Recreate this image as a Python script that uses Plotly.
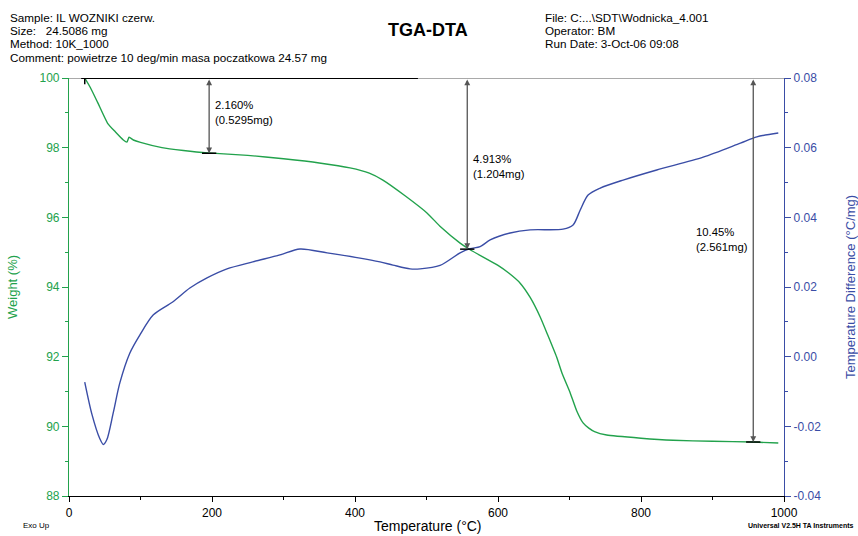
import plotly.graph_objects as go

# ---- data ----
temp_w = [22, 30, 40, 54, 65, 76, 81, 84, 90, 100, 130, 160, 194, 250, 300, 350, 393,
          420, 439, 470, 501, 520, 547, 561, 600, 615, 631, 645, 659, 670, 682, 690, 701,
          710, 719, 727, 735, 752, 800, 845, 900, 957, 992]
weight = [100.0, 99.72, 99.3, 98.7, 98.45, 98.22, 98.16, 98.3, 98.22, 98.15, 98.0, 97.92,
          97.85, 97.78, 97.68, 97.56, 97.42, 97.27, 97.07, 96.62, 96.12, 95.72, 95.26,
          95.07, 94.62, 94.4, 94.11, 93.7, 93.14, 92.6, 91.99, 91.5, 90.96,
          90.45, 90.1, 89.95, 89.85, 89.75, 89.66, 89.6, 89.57, 89.55, 89.52]

temp_d = [22, 32, 43, 48, 53, 62, 71, 85, 99, 118, 145, 169, 193, 221, 257, 295, 323,
          361, 407, 435, 453, 477, 491, 519, 547, 561, 575, 589, 617, 645, 691, 705,
          715, 726, 743, 775, 822, 887, 939, 962, 992]
dta = [-0.0073, -0.0165, -0.0235, -0.0252, -0.0238, -0.0160, -0.0076, 0.0010, 0.0062,
       0.0120, 0.0157, 0.0197, 0.0226, 0.0252, 0.0272, 0.0292, 0.0309, 0.0298, 0.0283,
       0.0272, 0.0263, 0.0252, 0.0252, 0.0262, 0.0298, 0.0310, 0.0316, 0.0335, 0.0355,
       0.0364, 0.0366, 0.0378, 0.0421, 0.0464, 0.0484, 0.0507, 0.0536, 0.0573, 0.0613,
       0.0631, 0.0642]

step_temp = [196, 557, 957]
step_loss_pct = [2.160, 4.913, 10.45]
step_loss_mg = [0.5295, 1.204, 2.561]

x_ticks = [0, 200, 400, 600, 800, 1000]
w_ticks = [88, 90, 92, 94, 96, 98, 100]
d_ticks = [-0.04, -0.02, 0.00, 0.02, 0.04, 0.06, 0.08]

GREEN = "#22a24c"
BLUE = "#3a4da6"
FONT = "Arial, Liberation Sans, sans-serif"

W, H = 858, 536
L, R, T, B = 69, 74, 78, 40
PW, PH = W - L - R, H - T - B


def px(x):
    return (x - L) / PW


def py(y):
    return (H - B - y) / PH


fig = go.Figure()
fig.add_trace(go.Scatter(x=temp_w, y=weight, mode="lines",
                         line=dict(color=GREEN, width=1.4, shape="spline", smoothing=0.5),
                         yaxis="y", showlegend=False, hoverinfo="skip"))
fig.add_trace(go.Scatter(x=temp_d, y=dta, mode="lines",
                         line=dict(color=BLUE, width=1.4, shape="spline", smoothing=0.8),
                         yaxis="y2", showlegend=False, hoverinfo="skip"))

shapes = []
annotations = []

# top frame line and start baseline
shapes.append(dict(type="line", xref="x", yref="y", x0=0, x1=1000, y0=100, y1=100,
                   line=dict(color="#555555", width=1.2)))
shapes.append(dict(type="line", xref="x", yref="y", x0=temp_w[0] - 5, x1=488, y0=100, y1=100,
                   line=dict(color="black", width=2)))
shapes.append(dict(type="line", xref="x", yref="y", x0=temp_w[0], x1=temp_w[0], y0=99.82, y1=100.18,
                   line=dict(color="black", width=1.5)))

label_pos = [(201, 99.45), (562, 97.9), (874, 95.8)]
for t, loss, mg, (lx, ly) in zip(step_temp, step_loss_pct, step_loss_mg, label_pos):
    wy = 100 - loss
    annotations.append(dict(x=t, y=wy, ax=t, ay=100, xref="x", yref="y", axref="x", ayref="y",
                            showarrow=True, arrowside="end+start", arrowhead=2, startarrowhead=2,
                            arrowsize=0.9, arrowwidth=1.3, arrowcolor="#555555", text=""))
    shapes.append(dict(type="line", xref="x", yref="y", x0=t - 10, x1=t + 10, y0=wy, y1=wy,
                       line=dict(color="black", width=1.5)))
    txt = (f"{loss:.3f}%" if loss < 10 else f"{loss:.2f}%") + f"<br>({mg}mg)"
    annotations.append(dict(x=lx, y=ly, xref="x", yref="y", text=txt, showarrow=False,
                            xanchor="left", yanchor="top", align="left",
                            font=dict(family=FONT, size=11.3, color="black")))

# header texts
left_hdr = ["Sample: IL WOZNIKI czerw.", "Size:   24.5086 mg", "Method: 10K_1000",
            "Comment: powietrze 10 deg/min masa poczatkowa 24.57 mg"]
right_hdr = ["File: C:...\\SDT\\Wodnicka_4.001", "Operator: BM", "Run Date: 3-Oct-06 09:08"]
for i, s in enumerate(left_hdr):
    annotations.append(dict(x=px(8), y=py(17 + i * 13.4), xref="paper", yref="paper", text=s,
                            showarrow=False, xanchor="left", yanchor="middle",
                            font=dict(family=FONT, size=11.7, color="black")))
for i, s in enumerate(right_hdr):
    annotations.append(dict(x=px(543), y=py(17 + i * 13.4), xref="paper", yref="paper", text=s,
                            showarrow=False, xanchor="left", yanchor="middle",
                            font=dict(family=FONT, size=11.7, color="black")))
annotations.append(dict(x=px(428), y=py(30), xref="paper", yref="paper", text="<b>TGA-DTA</b>",
                        showarrow=False, xanchor="center", yanchor="middle",
                        font=dict(family=FONT, size=18, color="black")))

# axis titles
annotations.append(dict(x=px(428), y=py(526), xref="paper", yref="paper", text="Temperature (°C)",
                        showarrow=False, xanchor="center", yanchor="middle",
                        font=dict(family=FONT, size=14, color="black")))
annotations.append(dict(x=px(12), y=py(287), xref="paper", yref="paper", text="Weight (%)",
                        showarrow=False, xanchor="center", yanchor="middle", textangle=-90,
                        font=dict(family=FONT, size=13, color=GREEN)))
annotations.append(dict(x=px(850), y=py(287), xref="paper", yref="paper",
                        text="Temperature Difference (°C/mg)",
                        showarrow=False, xanchor="center", yanchor="middle", textangle=-90,
                        font=dict(family=FONT, size=13, color=BLUE)))
annotations.append(dict(x=px(21), y=py(525), xref="paper", yref="paper", text="Exo Up",
                        showarrow=False, xanchor="left", yanchor="middle",
                        font=dict(family=FONT, size=8, color="black")))
annotations.append(dict(x=px(856), y=py(525), xref="paper", yref="paper",
                        text="<b>Universal V2.5H TA Instruments</b>",
                        showarrow=False, xanchor="right", yanchor="middle",
                        font=dict(family=FONT, size=7, color="black")))

fig.update_layout(
    width=W, height=H, margin=dict(l=L, r=R, t=T, b=B),
    paper_bgcolor="white", plot_bgcolor="white",
    font=dict(family=FONT, size=11),
    shapes=shapes, annotations=annotations,
    xaxis=dict(range=[0, 1000], tickvals=x_ticks, ticktext=[str(v) for v in x_ticks],
               ticks="outside", ticklen=5, tickcolor="black", linecolor="black", linewidth=1.2,
               showline=True, showgrid=False, zeroline=False,
               tickfont=dict(family=FONT, size=12, color="black"),
               minor=dict(dtick=100, ticks="outside", ticklen=3, tickcolor="black")),
    yaxis=dict(range=[88, 100], tickvals=w_ticks, ticktext=[str(v) for v in w_ticks],
               ticks="outside", ticklen=6, tickcolor=GREEN, linecolor=GREEN, linewidth=1.2,
               showline=True, showgrid=False, zeroline=False,
               tickfont=dict(family=FONT, size=12, color=GREEN),
               minor=dict(dtick=1, ticks="outside", ticklen=3, tickcolor=GREEN)),
    yaxis2=dict(range=[-0.04, 0.08], tickvals=d_ticks, ticktext=[f"{v:.2f}" for v in d_ticks],
                overlaying="y", side="right",
                ticks="outside", ticklen=6, tickcolor=BLUE, linecolor=BLUE, linewidth=1.2,
                showline=True, showgrid=False, zeroline=False,
                tickfont=dict(family=FONT, size=12, color=BLUE),
                minor=dict(dtick=0.01, ticks="outside", ticklen=3, tickcolor=BLUE)),
)

fig.write_html("out.html")
